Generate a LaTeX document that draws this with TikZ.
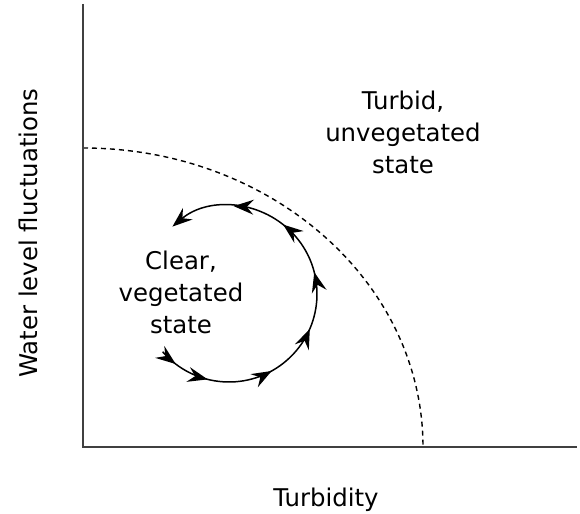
\documentclass[tikz,border=0pt]{standalone}
\usepackage{fontspec}
\setmainfont{DejaVu Sans}
\usetikzlibrary{arrows.meta}
\usetikzlibrary{decorations.markings}

\begin{document}
\begin{tikzpicture}
		[x=0.5pt, y=0.5pt,
		>={Stealth[length=10pt, width=7.5pt, inset=3.5pt]},
		axis/.style={draw=black!75, line width=1pt},
		boundary/.style={draw=black, line width=0.7pt, dash pattern=on 2.5pt off 2pt},
		statetext/.style={align=center, font=\fontsize{12.2}{16}\selectfont},
		loopline/.style={draw=black, line width=0.75pt, ->, postaction={decorate},
			decoration={markings,
				mark=at position 9pt with {\arrow{>}},
				mark=at position 0.13 with {\arrow{>}},
				mark=at position 0.29 with {\arrow{>}},
				mark=at position 0.43 with {\arrow{>}},
				mark=at position 0.57 with {\arrow{>}},
				mark=at position 0.71 with {\arrow{>}},
				mark=at position 0.84 with {\arrow{>}}}}]
		\useasboundingbox (0,0) rectangle (580,514);

		\coordinate (o) at (83,67);
		\coordinate (ytop) at (83,510);
		\coordinate (xend) at (577,67);
		\coordinate (mid) at (229,220);

		\node[statetext, rotate=90] (wl) at (28,281) {Water level fluctuations};
		\node[statetext] (tb) at (326,14) {Turbidity};
		\node[statetext] (turbid) at (403,382) {Turbid,\\unvegetated\\state};
		\node[statetext] (clear) at (181,222) {Clear,\\vegetated\\state};

		\draw[boundary] (o) ++(0,299) arc[start angle=90, end angle=0, x radius=340, y radius=299];
		\draw[axis] (ytop) -- (o) -- (xend);
		\draw[loopline] (mid) ++(221:88) arc[start angle=221, end angle=490, radius=88];
	\end{tikzpicture}
\end{document}
